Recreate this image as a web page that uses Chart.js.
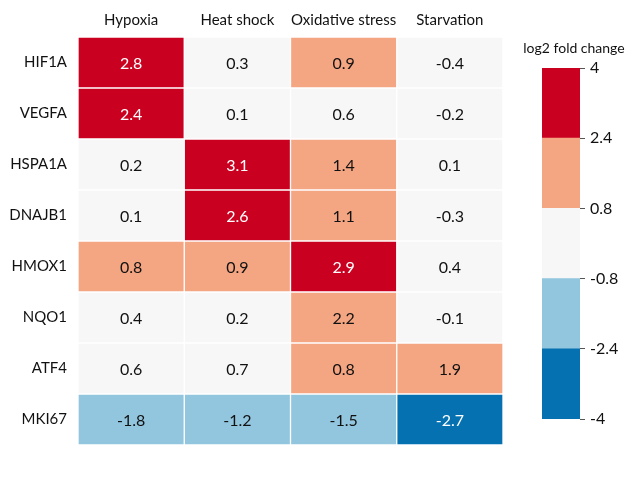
<!DOCTYPE html>
<html>
<head>
<meta charset="utf-8">
<script src="https://cdn.jsdelivr.net/npm/chart.js@4"></script>
<style>
  body { margin: 0; background: #fff; }
  #wrap { position: relative; width: 640px; height: 480px; }
  #heat { position: absolute; left: 0; top: 0; width: 510px; height: 480px; }
  #bar { position: absolute; left: 520px; top: 0; width: 120px; height: 480px; }
</style>
</head>
<body>
<div id="wrap">
  <div id="heat"><canvas id="heatmap"></canvas></div>
  <div id="bar"><canvas id="colorbar"></canvas></div>
</div>
<script>
const genes = ['HIF1A', 'VEGFA', 'HSPA1A', 'DNAJB1', 'HMOX1', 'NQO1', 'ATF4', 'MKI67'];
const conditions = ['Hypoxia', 'Heat shock', 'Oxidative stress', 'Starvation'];

// one array per condition, in gene order
const hypoxia   = [2.8, 2.4, 0.2, 0.1, 0.8, 0.4, 0.6, -1.8];
const heatShock = [0.3, 0.1, 3.1, 2.6, 0.9, 0.2, 0.7, -1.2];
const oxidative = [0.9, 0.6, 1.4, 1.1, 2.9, 2.2, 0.8, -1.5];
const starvation = [-0.4, -0.2, 0.1, -0.3, 0.4, -0.1, 1.9, -2.7];
const values = [hypoxia, heatShock, oxidative, starvation];

const binEdges = [-4, -2.4, -0.8, 0.8, 2.4, 4];
const binColors = ['#0571b0', '#92c5de', '#f7f7f7', '#f4a582', '#ca0020'];

const FONT = 'Lato, "Open Sans", sans-serif';

function colorFor(v) {
  for (let i = binEdges.length - 2; i >= 0; i--) {
    if (v >= binEdges[i]) return binColors[i];
  }
  return binColors[0];
}

const cellLabels = {
  id: 'cellLabels',
  afterDatasetsDraw(chart) {
    const ctx = chart.ctx;
    ctx.save();
    ctx.font = '16px ' + FONT;
    ctx.textAlign = 'center';
    ctx.textBaseline = 'middle';
    chart.data.datasets.forEach((ds, di) => {
      chart.getDatasetMeta(di).data.forEach((bar, gi) => {
        const v = values[di][gi];
        const p = bar.getProps(['x', 'y', 'base'], true);
        ctx.fillStyle = Math.abs(v) >= 2.4 ? '#ffffff' : '#111111';
        ctx.fillText(v.toFixed(1), (p.x + p.base) / 2, p.y + 1);
      });
    });
    ctx.restore();
  }
};

new Chart(document.getElementById('heatmap'), {
  type: 'bar',
  data: {
    labels: genes,
    datasets: conditions.map((c, j) => ({
      label: c,
      data: genes.map(() => [j, j + 1]),
      backgroundColor: values[j].map(colorFor),
      borderColor: '#ffffff',
      borderWidth: 1,
      borderSkipped: false,
      grouped: false,
      barPercentage: 1,
      categoryPercentage: 1
    }))
  },
  options: {
    indexAxis: 'y',
    responsive: true,
    maintainAspectRatio: false,
    animation: false,
    layout: { padding: { right: 7, bottom: 35 } },
    plugins: { legend: { display: false }, tooltip: { enabled: false } },
    scales: {
      x: {
        position: 'top',
        min: 0,
        max: 4,
        afterBuildTicks: s => { s.ticks = conditions.map((c, j) => ({ value: j + 0.5 })); },
        afterFit: s => { s.height = 37; },
        ticks: {
          callback: (v, i) => conditions[i],
          font: { size: 15, family: FONT },
          color: '#111',
          maxRotation: 0,
          padding: 8
        },
        grid: { display: false, drawTicks: false },
        border: { display: false }
      },
      y: {
        afterFit: s => { s.width = 78; },
        ticks: {
          font: { size: 15, family: FONT },
          color: '#111',
          padding: 11
        },
        grid: { display: false, drawTicks: false },
        border: { display: false }
      }
    }
  },
  plugins: [cellLabels]
});

const barTitle = {
  id: 'barTitle',
  afterDraw(chart) {
    const ctx = chart.ctx;
    ctx.save();
    ctx.font = '14px ' + FONT;
    ctx.fillStyle = '#111';
    ctx.textAlign = 'center';
    ctx.textBaseline = 'middle';
    ctx.fillText('log2 fold change', 54, 48);
    ctx.restore();
  }
};

new Chart(document.getElementById('colorbar'), {
  type: 'bar',
  data: {
    labels: [''],
    datasets: binColors.map((c, i) => ({
      data: [[binEdges[i], binEdges[i + 1]]],
      backgroundColor: c,
      borderWidth: 0,
      grouped: false,
      barPercentage: 1,
      categoryPercentage: 1
    }))
  },
  options: {
    responsive: true,
    maintainAspectRatio: false,
    animation: false,
    layout: { padding: { left: 22, top: 68, bottom: 61 } },
    plugins: { legend: { display: false }, tooltip: { enabled: false } },
    scales: {
      x: { display: false },
      y: {
        position: 'right',
        min: -4,
        max: 4,
        afterBuildTicks: s => { s.ticks = binEdges.map(v => ({ value: v })); },
        afterFit: s => { s.width = 60; },
        ticks: {
          callback: v => String(v),
          font: { size: 16, family: FONT },
          color: '#111',
          padding: 5
        },
        grid: { drawOnChartArea: false, drawTicks: true, tickLength: 5, color: '#555' },
        border: { display: false }
      }
    }
  },
  plugins: [barTitle]
});
</script>
</body>
</html>
